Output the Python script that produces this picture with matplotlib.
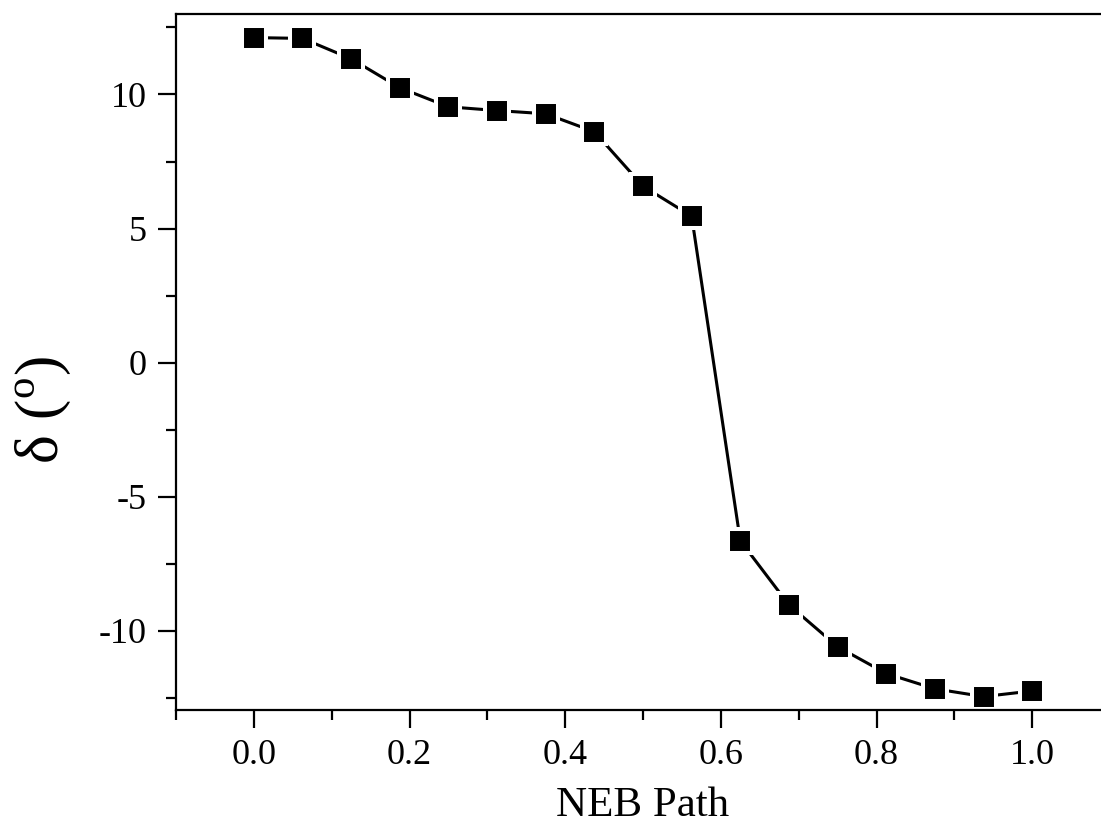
import matplotlib
matplotlib.use("Agg")
import matplotlib.pyplot as plt
from matplotlib.ticker import MultipleLocator, FormatStrFormatter

plt.rcParams['font.family'] = ['Liberation Serif', 'DejaVu Serif']
plt.rcParams['mathtext.fontset'] = 'custom'
plt.rcParams['mathtext.rm'] = 'Liberation Serif'
plt.rcParams['axes.unicode_minus'] = False

# NEB images, 17 points along the path
path = [i / 16 for i in range(17)]
delta = [12.12, 12.09, 11.33, 10.25, 9.54, 9.40, 9.28, 8.61, 6.58, 5.46,
         -6.64, -9.03, -10.59, -11.59, -12.16, -12.45, -12.24]

fig = plt.figure(figsize=(11.01, 8.24), dpi=100)
ax = fig.add_axes([176 / 1101, 114 / 824, 934 / 1101, 696 / 824])

ax.plot(path, delta, color='black', lw=2.2, zorder=2)
# white ring round the squares gives the small gaps in the line
ax.plot(path, delta, ls='none', marker='s', ms=17.3, mfc='black',
        mec='white', mew=2.9, zorder=3)

ax.set_xlim(-0.1, 1.1)
ax.set_ylim(-12.95, 13.0)
ax.xaxis.set_major_locator(MultipleLocator(0.2))
ax.xaxis.set_minor_locator(MultipleLocator(0.1))
ax.yaxis.set_major_locator(MultipleLocator(5))
ax.yaxis.set_minor_locator(MultipleLocator(2.5))
ax.xaxis.set_major_formatter(FormatStrFormatter('%.1f'))

ax.spines['right'].set_visible(False)
for s in ['left', 'bottom', 'top']:
    ax.spines[s].set_linewidth(1.6)
    ax.spines[s].set_zorder(5)
ax.tick_params(which='both', direction='out', top=False, right=False,
               width=1.6, labelsize=26, pad=8)
ax.tick_params(which='major', length=13)
ax.tick_params(which='minor', length=7)

ax.set_xlabel('NEB Path', fontsize=31, labelpad=10)
fig.text(43 / 1101, 1 - 410 / 824, r'δ ($^{\rm o}$)', fontsize=44,
         rotation=90, ha='center', va='center')

fig.savefig('out.png', dpi=100)
